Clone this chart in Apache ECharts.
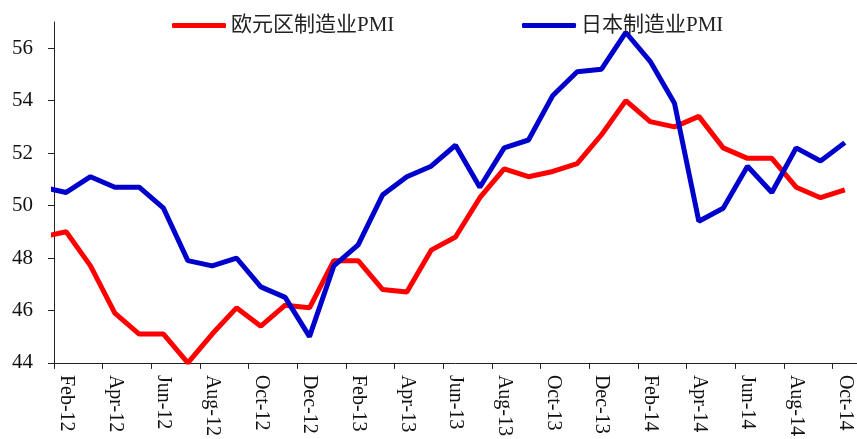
<!DOCTYPE html>
<html>
<head>
<meta charset="utf-8">
<script src="https://cdn.jsdelivr.net/npm/echarts@6/dist/echarts.min.js"></script>
<style>
html,body{margin:0;padding:0;background:#fff;}
#chart{width:857px;height:439px;}
</style>
</head>
<body>
<div id="chart"></div>
<script>
// Months (Jan-12 is just before the visible axis start and is clipped)
var months = ['Jan-12','Feb-12','Mar-12','Apr-12','May-12','Jun-12','Jul-12','Aug-12','Sep-12','Oct-12','Nov-12','Dec-12',
  'Jan-13','Feb-13','Mar-13','Apr-13','May-13','Jun-13','Jul-13','Aug-13','Sep-13','Oct-13','Nov-13','Dec-13',
  'Jan-14','Feb-14','Mar-14','Apr-14','May-14','Jun-14','Jul-14','Aug-14','Sep-14','Oct-14'];
var euroPMI = [48.8,49.0,47.7,45.9,45.1,45.1,44.0,45.1,46.1,45.4,46.2,46.1,
  47.9,47.9,46.8,46.7,48.3,48.8,50.3,51.4,51.1,51.3,51.6,52.7,
  54.0,53.2,53.0,53.4,52.2,51.8,51.8,50.7,50.3,50.6];
var japanPMI = [50.7,50.5,51.1,50.7,50.7,49.9,47.9,47.7,48.0,46.9,46.5,45.0,
  47.7,48.5,50.4,51.1,51.5,52.3,50.7,52.2,52.5,54.2,55.1,55.2,
  56.6,55.5,53.9,49.4,49.9,51.5,50.5,52.2,51.7,52.4];
var yTicks = [44,46,48,50,52,54,56];
var seriesNames = ['欧元区制造业PMI','日本制造业PMI'];

// x coordinate: Feb-12 band starts at 0, each month is one unit, centre at +0.5
function toData(arr){ return arr.map(function(v,i){ return [i-0.5, v]; }); }
var xTickVals = [], xLabelVals = [];
for (var i = 1; i < months.length; i += 2) { xTickVals.push(i-1); xLabelVals.push(i-0.5); }

var font = "'Liberation Serif','Times New Roman',serif";
var legendText = {fontFamily:font+",'Noto Sans CJK SC'", fontSize:21, color:'#222'};
var chart = echarts.init(document.getElementById('chart'));
chart.setOption({
  animation:false,
  backgroundColor:'#fff',
  grid:{left:54, top:22, width:805, height:342, containLabel:false},
  legend:[
    {left:167, top:10, itemWidth:54, itemHeight:5, icon:'roundRect', data:[seriesNames[0]], textStyle:legendText},
    {left:517, top:10, itemWidth:54, itemHeight:5, icon:'roundRect', data:[seriesNames[1]], textStyle:legendText}
  ],
  xAxis:{
    type:'value', min:0, max:33,
    axisLine:{show:true, onZero:false, lineStyle:{color:'#222', width:1}},
    axisTick:{show:true, length:6, customValues:xTickVals, lineStyle:{color:'#222'}},
    axisLabel:{customValues:xLabelVals, rotate:-90, margin:12, fontFamily:font, fontSize:20, color:'#111',
      formatter:function(v){ var idx=Math.round(v+0.5); return months[idx]||''; }},
    splitLine:{show:false}
  },
  yAxis:{
    type:'value', min:44, max:57, interval:2,
    axisLine:{show:true, lineStyle:{color:'#222', width:1}},
    axisTick:{show:true, length:6, customValues:yTicks, lineStyle:{color:'#222'}},
    axisLabel:{customValues:yTicks, margin:21, fontFamily:font, fontSize:21, color:'#111'},
    splitLine:{show:false}
  },
  series:[
    {name:seriesNames[0], type:'line', data:toData(euroPMI), symbol:'none', clip:true,
     lineStyle:{color:'#FF0000', width:5}, itemStyle:{color:'#FF0000'}},
    {name:seriesNames[1], type:'line', data:toData(japanPMI), symbol:'none', clip:true,
     lineStyle:{color:'#0000CC', width:5}, itemStyle:{color:'#0000CC'}}
  ]
});
</script>
</body>
</html>
